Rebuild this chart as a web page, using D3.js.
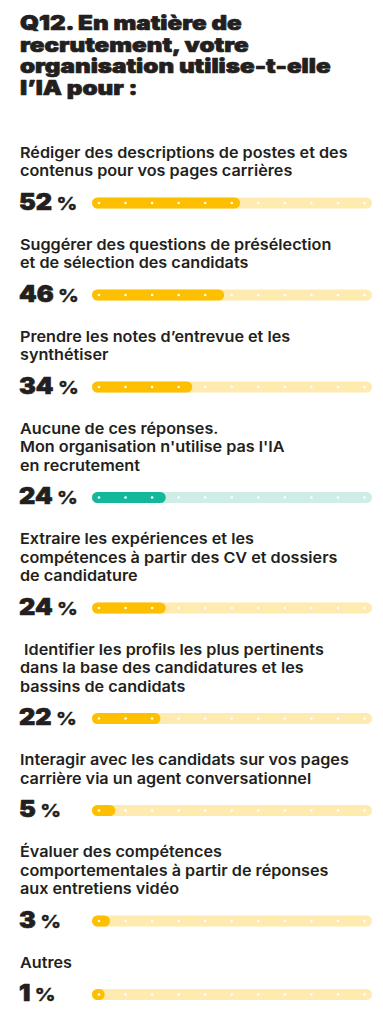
<!DOCTYPE html>
<html>
<head>
<meta charset="utf-8">
<script src="https://cdn.jsdelivr.net/npm/d3@7"></script>
<style>
  body { margin: 0; background: #fff; }
  text { font-family: Inter, "Open Sans", sans-serif; fill: #231f20; white-space: pre; }
  .heavy { stroke: #231f20; stroke-width: 0.7px; stroke-linejoin: round; }
</style>
</head>
<body>
<svg id="chart"></svg>
<script>
// title lines
var titleLines = ["Q12. En matière de", "recrutement, votre", "organisation utilise-t-elle", "l’IA pour :"];

// answers (each label split into its printed lines)
var labels = [
  ["Rédiger des descriptions de postes et des", "contenus pour vos pages carrières"],
  ["Suggérer des questions de présélection", "et de sélection des candidats"],
  ["Prendre les notes d’entrevue et les", "synthétiser"],
  ["Aucune de ces réponses.", "Mon organisation n'utilise pas l'IA", "en recrutement"],
  ["Extraire les expériences et les", "compétences à partir des CV et dossiers", "de candidature"],
  [" Identifier les profils les plus pertinents", "dans la base des candidatures et les", "bassins de candidats"],
  ["Interagir avec les candidats sur vos pages", "carrière via un agent conversationnel"],
  ["Évaluer des compétences", "comportementales à partir de réponses", "aux entretiens vidéo"],
  ["Autres"]
];
var values = [52, 46, 34, 24, 24, 22, 5, 3, 1];
var series = ["ia", "ia", "ia", "none", "ia", "ia", "ia", "ia", "ia"];
var ticks = [0, 10, 20, 30, 40, 50, 60, 70, 80, 90, 100];

var W = 383, H = 1024;
var svg = d3.select('#chart').attr('width', W).attr('height', H);

var fillColor = d3.scaleOrdinal().domain(["ia", "none"]).range(["#fdbf00", "#13b89b"]);
var trackColor = d3.scaleOrdinal().domain(["ia", "none"]).range(["#ffeab0", "#cdede6"]);

var x = d3.scaleLinear().domain([0, 100]).range([99, 364.5]);
var barH = 11, trackX0 = 92, trackX1 = 372;

// the original uses a wide geometric face, so stretch text horizontally
var titleK = 1.21, labelK = 1.08, valueK = 1.12;

// title
svg.append('g').selectAll('text')
  .data(titleLines)
  .enter().append('text')
    .attr('class', 'heavy')
    .attr('transform', function(d, i) { return 'translate(20,' + (30 + i * 21.6) + ') scale(' + titleK + ',1)'; })
    .style('font-size', '20px')
    .style('font-weight', 900)
    .text(function(d) { return d; });

// row layout: label lines then bar
var lh = 18.5, y0 = 157.5, rows = [];
labels.forEach(function(l, i) {
  var bar = y0 + (l.length - 1) * lh + 27;
  rows.push({ labels: l, value: values[i], s: series[i], y0: y0, bar: bar });
  y0 = bar + 46.5;
});

var row = svg.selectAll('.row')
  .data(rows)
  .enter().append('g')
    .attr('class', 'row');

row.selectAll('.lbl')
  .data(function(d) { return d.labels.map(function(t, j) { return { t: t, y: d.y0 + j * lh }; }); })
  .enter().append('text')
    .attr('class', 'lbl')
    .attr('transform', function(d) { return 'translate(20,' + d.y + ') scale(' + labelK + ',1)'; })
    .style('font-size', '15px')
    .style('font-weight', 600)
    .text(function(d) { return d.t; });

var val = row.append('text')
  .attr('class', 'heavy')
  .attr('transform', function(d) { return 'translate(19,' + (d.bar + 6.8) + ') scale(' + valueK + ',1)'; })
  .style('font-size', '22.5px')
  .style('font-weight', 900)
  .text(function(d) { return d.value; });
val.append('tspan')
  .style('font-size', '18px')
  .style('font-weight', 800)
  .style('stroke-width', '0.3px')
  .text(' %');

// track
row.append('rect')
  .attr('x', trackX0)
  .attr('y', function(d) { return d.bar - barH / 2; })
  .attr('width', trackX1 - trackX0)
  .attr('height', barH)
  .attr('rx', barH / 2)
  .attr('fill', function(d) { return trackColor(d.s); });

// filled bar
row.append('rect')
  .attr('x', trackX0)
  .attr('y', function(d) { return d.bar - barH / 2; })
  .attr('width', function(d) { return Math.max(barH, x(d.value) + 3 - trackX0); })
  .attr('height', barH)
  .attr('rx', barH / 2)
  .attr('fill', function(d) { return fillColor(d.s); });

// white dots every 10 %
row.selectAll('.dot')
  .data(function(d) { return ticks.map(function(t) { return { t: t, y: d.bar }; }); })
  .enter().append('circle')
    .attr('class', 'dot')
    .attr('cx', function(d) { return x(d.t); })
    .attr('cy', function(d) { return d.y; })
    .attr('r', 1.3)
    .attr('fill', '#fff');
</script>
</body>
</html>
